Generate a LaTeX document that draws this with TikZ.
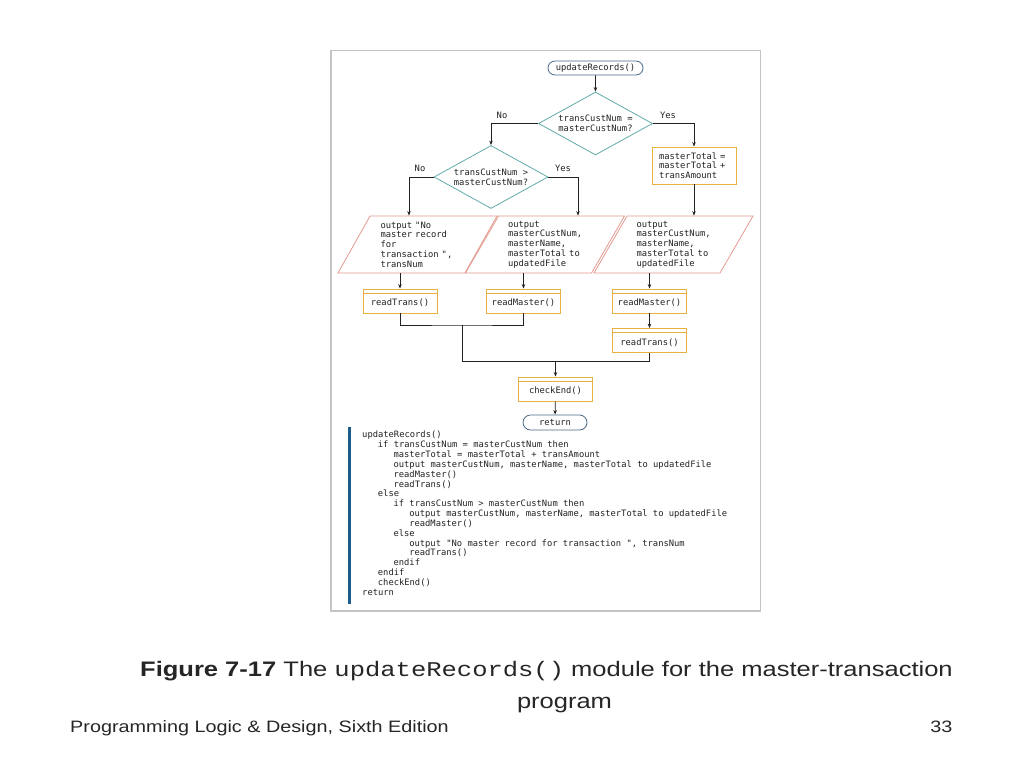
\documentclass[tikz,border=0pt]{standalone}
\usepackage{fontspec}
\setmainfont{Liberation Sans}
\setmonofont{DejaVu Sans Mono}
\newfontfamily\capmono{Liberation Mono}
\usepackage{tikz}
\usetikzlibrary{shapes.geometric}
\usetikzlibrary{shapes.misc}
\usetikzlibrary{arrows.meta}

\definecolor{ink}{HTML}{222222}
\definecolor{deccol}{HTML}{62ABA9}
\definecolor{proccol}{HTML}{E8B040}
\definecolor{iocol}{HTML}{E49A90}
\definecolor{termcol}{HTML}{4D6B88}
\definecolor{barcol}{HTML}{1E5C8C}
\definecolor{framecol}{HTML}{C4C4C4}

\newcommand{\chartfont}{\fontsize{8.8}{9.7}\selectfont\ttfamily}
\newcommand{\codefont}{\fontsize{8.8}{9.83}\selectfont\ttfamily}
\newlength{\codestep}
\setlength{\codestep}{15.7pt}
\newcommand{\ind}[1]{\hspace*{#1\codestep}}

\begin{document}
\begin{tikzpicture}[x=1pt, y=-1pt,
  flow/.style={draw=ink, line width=0.8pt, -{Stealth[length=4.5pt,width=3.5pt]}},
  joinline/.style={draw=ink, line width=0.8pt},
  term/.style={rounded rectangle, draw=termcol, line width=0.8pt, minimum width=95pt,
    minimum height=14pt, inner sep=0pt, text=ink, font=\chartfont},
  decision/.style={diamond, draw=deccol, line width=0.8pt, aspect=1.8, minimum width=114pt,
    minimum height=63pt, inner sep=0pt, align=center, text=ink, font=\chartfont},
  proc/.style={rectangle, draw=proccol, line width=0.8pt, minimum width=84pt,
    minimum height=37pt, text width=70pt, inner xsep=7pt, align=left, text=ink, font=\chartfont},
  io/.style={trapezium, trapezium left angle=57, trapezium right angle=123,
    trapezium stretches body, draw=iocol, line width=0.8pt, minimum width=159pt,
    minimum height=57pt, text width=74pt, inner sep=2pt, align=left, text=ink, font=\chartfont},
  module/.style={rectangle, draw=proccol, line width=0.8pt, minimum width=74pt,
    minimum height=24pt, inner sep=0pt, text height=9pt, text depth=0pt, text=ink, font=\chartfont,
    path picture={\draw[proccol, line width=0.8pt]
      ([yshift=-4pt]path picture bounding box.north west) --
      ([yshift=-4pt]path picture bounding box.north east);}},
  branch/.style={text=ink, font=\chartfont},
  slide/.style={text=black!85, inner sep=0pt}
]
\useasboundingbox (0,0) rectangle (1024,768);
\fill[white] (0,0) rectangle (1024,768);

% frame round the figure
\draw[framecol, line width=1.2pt] (331,50.5) rectangle (760.5,611);

% flowchart
\node[term] (start) at (595.5,68) {updateRecords()};
\node[decision] (d1) at (595.5,123.5) {transCustNum =\\masterCustNum?};
\node[decision] (d2) at (491,177) {transCustNum >\\masterCustNum?};
\node[proc] (calc) at (694,165.5) {masterTotal =\\masterTotal +\\transAmount};

\node[io] (out1) at (417.5,244.5) {output "No\\master record\\for\\transaction ",\\transNum};
\node[io] (out2) at (545,244.5) {output\\masterCustNum,\\masterName,\\masterTotal to\\updatedFile};
\node[io] (out3) at (673.5,244.5) {output\\masterCustNum,\\masterName,\\masterTotal to\\updatedFile};

\node[module] (rt1) at (400,301) {readTrans()};
\node[module] (rm1) at (523.5,301) {readMaster()};
\node[module] (rm2) at (649.5,301) {readMaster()};
\node[module] (rt2) at (649.5,340.5) {readTrans()};
\node[module] (chk) at (555.5,389) {checkEnd()};
\node[term, minimum width=64pt, minimum height=15pt] (ret) at (555,422.5) {return};

\node[branch] (no1) at (502,115) {No};
\node[branch] (yes1) at (668,115) {Yes};
\node[branch] (no2) at (420,168) {No};
\node[branch] (yes2) at (563,168) {Yes};

\draw[flow] (start) -- (d1);
\draw[flow] (d1.west) -| (d2.north);
\draw[flow] (d1.east) -| (calc.north);
\draw[flow] (d2.west) -| ([xshift=-8.5pt]out1.north);
\draw[flow] (d2.east) -| ([xshift=33pt]out2.north);
\draw[flow] (calc.south) -- (calc.south |- out3.north);

\draw[flow] (rt1.north |- out1.south) -- (rt1.north);
\draw[flow] (rm1.north |- out2.south) -- (rm1.north);
\draw[flow] (rm2.north |- out3.south) -- (rm2.north);
\draw[flow] (rm2) -- (rt2);

\coordinate (j1) at (462,325);
\coordinate (j2) at (462,361);
\draw[joinline] (rt1.south) |- (j1) -| (rm1.south);
\draw[joinline] (j1) -- (j2) -| (rt2.south);
\draw[flow] (chk.north |- j2) -- (chk.north);
\draw[flow] (chk) -- (ret);

% pseudocode
\draw[barcol, line width=3pt] (349,427) -- (349,604);
\node[anchor=north west, inner sep=0pt, align=left, text=ink, font=\codefont] (listing) at (362,431) {%
updateRecords()\\
\ind{1}if transCustNum = masterCustNum then\\
\ind{2}masterTotal = masterTotal + transAmount\\
\ind{2}output masterCustNum, masterName, masterTotal to updatedFile\\
\ind{2}readMaster()\\
\ind{2}readTrans()\\
\ind{1}else\\
\ind{2}if transCustNum > masterCustNum then\\
\ind{3}output masterCustNum, masterName, masterTotal to updatedFile\\
\ind{3}readMaster()\\
\ind{2}else\\
\ind{3}output "No master record for transaction ", transNum\\
\ind{3}readTrans()\\
\ind{2}endif\\
\ind{1}endif\\
\ind{1}checkEnd()\\
return};

% caption and footer
\node[slide, anchor=base west, font=\fontsize{21}{25}\selectfont] (cap1) at (140,676.5)
  {\scalebox{1.215}[1]{\textbf{Figure 7-17} The {\capmono\fontsize{21}{25}\selectfont updateRecords()} module for the master-transaction}};
\node[slide, anchor=base, font=\fontsize{21}{25}\selectfont] (cap2) at (564.5,708)
  {\scalebox{1.215}[1]{program}};
\node[slide, anchor=base west, font=\fontsize{16.5}{20}\selectfont] (foot) at (70,732.5)
  {\scalebox{1.2}[1]{Programming Logic \& Design, Sixth Edition}};
\node[slide, anchor=base east, font=\fontsize{16.5}{20}\selectfont] (page) at (952.5,732.5)
  {\scalebox{1.2}[1]{33}};
\end{tikzpicture}
\end{document}
